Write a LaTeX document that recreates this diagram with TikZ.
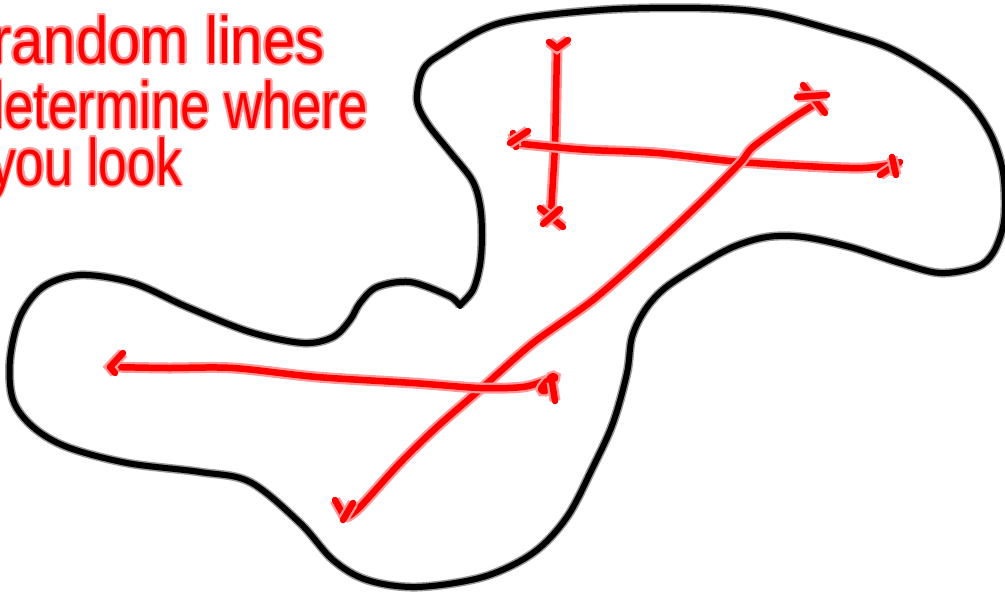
\documentclass[tikz,border=0pt]{standalone}
\usepackage{fontspec}
\setmainfont{Liberation Sans}
\usepackage{contour}
\contourlength{2pt}
\contournumber{16}
\tikzset{
  outline/.style={draw=black, line width=6pt, line cap=round, line join=round,
    preaction={draw=black!40, line width=9pt}},
  redpen/.style={draw=red, line width=6.5pt, line cap=round, line join=round,
    preaction={draw=red!40, line width=11pt}},
  handtext/.style={anchor=north west, inner sep=0pt, text=red, align=left,
    font=\fontsize{66}{65}\selectfont}
}
\begin{document}
\begin{tikzpicture}[x=1pt,y=-1pt]
\useasboundingbox (0,0) rectangle (1005,593);
\clip (0,0) rectangle (1005,593);
\fill[white] (0,0) rectangle (1005,593);

% text
\node[handtext] (note) at (-25,15) {\hspace*{17pt}\scalebox{0.88}[1]{\contour{red!40}{random lines}}\\
  \scalebox{0.80}[1]{\contour{red!40}{determine where}}\\[-8pt]
  \hspace*{15pt}\scalebox{0.78}[1]{\contour{red!40}{you look}}};

% blob outline
\draw[outline] plot[smooth, tension=0.55] coordinates {
 (460,305) (473,290) (480,265) (482,235) (480,205) (472,180) (450,152) (427,123)
 (417,100) (423,70) (443,53) (500,23) (600,10) (700,8) (767,13) (833,30) (887,47)
 (933,73) (967,100) (990,133) (1002,167) (1005,200) (1003,227) (993,253) (977,267)
 (940,273) (900,263) (850,247) (803,237) (767,237) (733,247) (700,265) (665,288)
 (645,310) (632,337) (627,373) (613,423) (593,467) (567,517) (533,553) (483,577)
 (417,587) (367,580) (333,560) (300,523) (250,482) (200,472) (127,463) (67,447)
 (33,427) (13,400) (10,360) (20,317) (43,287) (80,275) (133,283) (187,307)
 (250,332) (303,343) (333,337) (350,320) (360,303) (377,287) (410,282) (447,295)
 (457,302) (460,306)};

% stroke 1: vertical
\draw[redpen] plot[smooth, tension=0.5] coordinates {(557,48) (556,100) (555,145) (553,180) (551,213)};
\draw[redpen] (549,42) -- (557,48) -- (568,40);
\draw[redpen] (540,208) -- (563,227);
\draw[redpen] (560,209) -- (543,224);

% stroke 2: upper horizontal
\draw[redpen] plot[smooth, tension=0.5] coordinates {(513,143) (553,147) (590,150) (657,153) (740,162) (823,167) (863,168) (890,165)};
\draw[redpen] (513,133) -- (516,147);
\draw[redpen] (528,131) -- (510,143);
\draw[redpen] (880,175) -- (900,162);
\draw[redpen] (892,157) -- (896,175);

% stroke 3: long diagonal
\draw[redpen] plot[smooth, tension=0.5] coordinates {(347,517) (360,507) (400,463) (437,427) (483,387) (533,343) (593,300) (650,250) (700,203) (740,163) (753,147) (790,120) (817,103)};
\draw[redpen] (803,85) -- (825,113);
\draw[redpen] (797,97) -- (827,95);
\draw[redpen] (335,500) -- (345,518);
\draw[redpen] (353,503) -- (343,520);

% stroke 4: lower horizontal
\draw[redpen] plot[smooth, tension=0.5] coordinates {(110,367) (167,368) (233,368) (317,377) (413,383) (480,388) (523,387) (547,380)};
\draw[redpen] (123,353) -- (110,367) -- (115,373);
\draw[redpen] plot[smooth, tension=0.6] coordinates {(547,381) (541,389) (545,391) (552,384) (555,377) (551,377) (548,383)};
\draw[redpen] (552,382) -- (555,401);
\end{tikzpicture}
\end{document}
